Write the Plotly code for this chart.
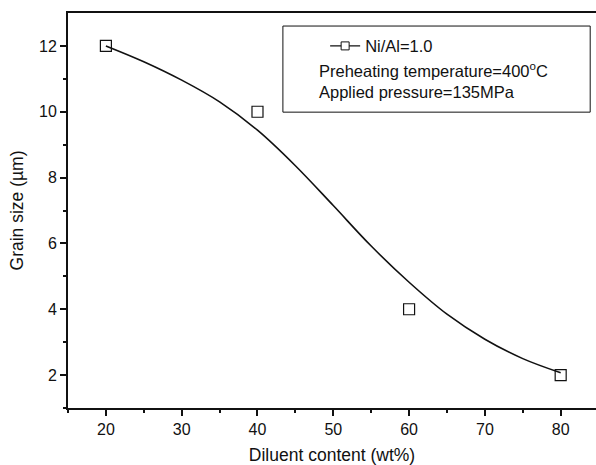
import plotly.graph_objects as go

# measured points
diluent = [20, 40, 60, 80]
grain_size = [12, 10, 4, 2]

# fitted curve
fit_x = [20, 25, 30, 35, 40, 45, 50, 55, 60, 65, 70, 75, 80]
fit_y = [12.0, 11.52, 10.96, 10.3, 9.44, 8.36, 7.15, 5.92, 4.82, 3.85, 3.09, 2.5, 2.07]

x_ticks = [20, 30, 40, 50, 60, 70, 80]
y_ticks = [2, 4, 6, 8, 10, 12]

FONT = "Liberation Sans, Arial, sans-serif"
INK = "#111111"

fig = go.Figure()
fig.add_trace(go.Scatter(
    x=fit_x, y=fit_y, mode="lines",
    line=dict(color=INK, width=1.6, shape="spline", smoothing=1.0),
    showlegend=False, hoverinfo="skip"
))
fig.add_trace(go.Scatter(
    x=diluent, y=grain_size, mode="markers",
    marker=dict(symbol="square-open", size=11, color=INK, line=dict(width=1.2)),
    showlegend=False
))
# legend entry only
fig.add_trace(go.Scatter(
    x=[None], y=[None], mode="lines+markers", name="Ni/Al=1.0",
    line=dict(color=INK, width=1.4),
    marker=dict(symbol="square", size=8, color="white", line=dict(color=INK, width=1))
))

fig.add_shape(type="rect", xref="paper", yref="paper",
              x0=0.407, x1=0.989, y0=0.749, y1=0.967,
              line=dict(color=INK, width=1), fillcolor="rgba(0,0,0,0)")
fig.add_annotation(text="Preheating temperature=400<sup>o</sup>C", xref="paper", yref="paper",
                   x=0.472, y=0.856, xanchor="left", yanchor="middle", showarrow=False,
                   font=dict(size=16.5, color=INK, family=FONT))
fig.add_annotation(text="Applied pressure=135MPa", xref="paper", yref="paper",
                   x=0.472, y=0.80, xanchor="left", yanchor="middle", showarrow=False,
                   font=dict(size=16.5, color=INK, family=FONT))

fig.update_layout(
    width=596, height=465,
    margin=dict(l=68, r=0, t=13, b=57),
    plot_bgcolor="white", paper_bgcolor="white",
    font=dict(family=FONT, color=INK, size=15),
    legend=dict(x=0.487, y=0.916, xanchor="left", yanchor="middle",
                bgcolor="rgba(0,0,0,0)", borderwidth=0,
                font=dict(size=16.5, family=FONT, color=INK)),
)
fig.update_xaxes(
    range=[15, 84.66], tickvals=x_ticks, ticks="outside", ticklen=6, tickwidth=1.5,
    tickcolor=INK, showline=True, linecolor=INK, linewidth=2, mirror=True,
    showgrid=False, zeroline=False, tickfont=dict(size=16),
    minor=dict(tickvals=[15, 25, 35, 45, 55, 65, 75], ticks="outside", ticklen=3,
               tickwidth=1.5, tickcolor=INK),
    title=dict(text="Diluent content (wt%)", font=dict(size=17.5), standoff=15)
)
fig.update_yaxes(
    range=[1, 13], tickvals=y_ticks, ticks="outside", ticklen=6, tickwidth=1.5,
    tickcolor=INK, showline=True, linecolor=INK, linewidth=2, mirror=False,
    showgrid=False, zeroline=False, tickfont=dict(size=16),
    minor=dict(tickvals=[1, 3, 5, 7, 9, 11], ticks="outside", ticklen=3,
               tickwidth=1.5, tickcolor=INK),
    title=dict(text="Grain size (µm)", font=dict(size=17.5), standoff=11)
)

# drop the default body margin so the figure sits at the window's corner
fig.write_html("out.html", config={"displayModeBar": False},
               post_script="document.body.style.margin='0';")
